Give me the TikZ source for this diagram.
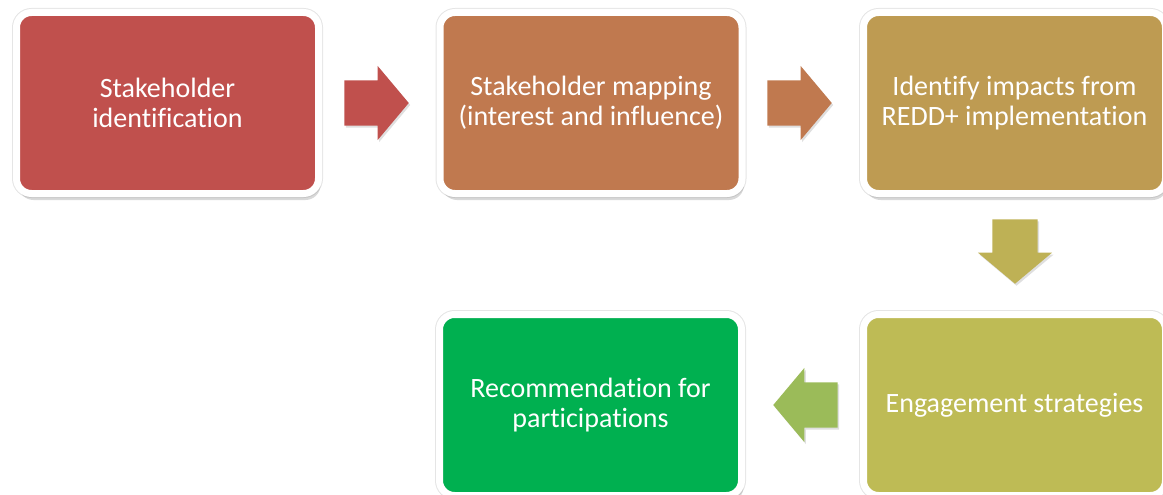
\documentclass[tikz,border=0pt]{standalone}
\usepackage{fontspec}
\setmainfont{Carlito}[Ligatures=NoCommon]
\usetikzlibrary{shapes.arrows,shadows}
\definecolor{stepred}{HTML}{C0504D}
\definecolor{steporange}{HTML}{C0794F}
\definecolor{stepgold}{HTML}{BE9B52}
\definecolor{stepolive}{HTML}{BEBB55}
\definecolor{stepgreen}{HTML}{00B050}
\definecolor{arrowolive}{HTML}{BEB155}
\definecolor{arrowgreen}{HTML}{9BBB59}
\tikzset{
    stage/.style={rectangle, rounded corners=15pt, draw=white, line width=7pt,
        minimum width=302pt, minimum height=181pt, inner sep=0pt,
        text=white, align=center, font=\fontsize{28}{30}\selectfont,
        preaction={draw=black!10, line width=9pt},
        drop shadow={shadow xshift=2pt, shadow yshift=-6.5pt, opacity=0.3}},
    flow/.style={single arrow, minimum height=64pt, minimum width=74pt,
        single arrow head extend=14.5pt, single arrow tip angle=100,
        inner sep=22.5pt, draw=none, anchor=tip,
        drop shadow={shadow xshift=1.5pt, shadow yshift=-2pt, opacity=0.25}}
}
\begin{document}
\begin{tikzpicture}[x=1pt,y=1pt]
    \useasboundingbox (0,0) rectangle (1163,-495);
    \node[stage, fill=stepred] (ident) at (167.5,-103) {Stakeholder\\identification};
    \node[stage, fill=steporange] (mapping) at (591,-103) {Stakeholder mapping\\(interest and influence)};
    \node[stage, fill=stepgold] (impacts) at (1014.5,-103) {Identify impacts from\\REDD+ implementation};
    \node[stage, fill=stepolive] (engage) at (1014.5,-405) {Engagement strategies};
    \node[stage, fill=stepgreen] (recommend) at (590.5,-405) {Recommendation for\\participations};

    \node[flow, fill=stepred] (a1) at (409,-103) {};
    \node[flow, fill=steporange] (a2) at (832,-103) {};
    \node[flow, fill=arrowolive, shape border rotate=270] (a3) at (1015,-284) {};
    \node[flow, fill=arrowgreen, shape border rotate=180] (a4) at (773,-405) {};
\end{tikzpicture}
\end{document}
